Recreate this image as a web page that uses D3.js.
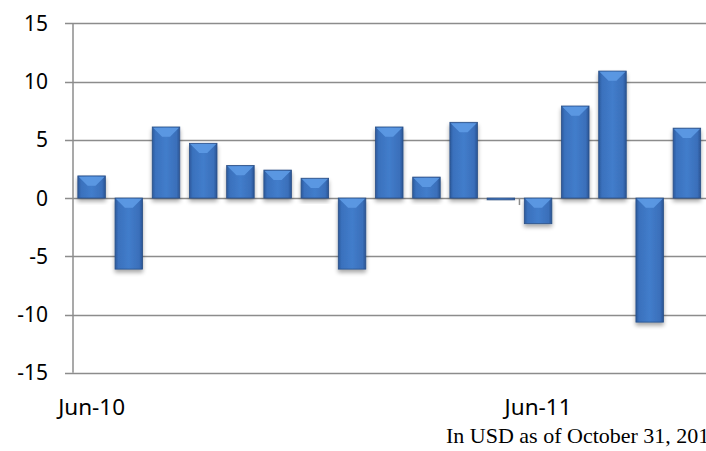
<!DOCTYPE html>
<html>
<head>
<meta charset="utf-8">
<script src="https://cdn.jsdelivr.net/npm/d3@7"></script>
<style>
  body { margin: 0; background: #fff; overflow: hidden; }
  svg { display: block; }
</style>
</head>
<body>
<div id="chart"></div>
<script>
// monthly values, Jun-10 .. Oct-11
var months = ["Jun-10", "Jul-10", "Aug-10", "Sep-10", "Oct-10", "Nov-10", "Dec-10",
              "Jan-11", "Feb-11", "Mar-11", "Apr-11", "May-11", "Jun-11", "Jul-11",
              "Aug-11", "Sep-11", "Oct-11"];
var values = [1.9, -6.1, 6.1, 4.7, 2.8, 2.4, 1.7, -6.1, 6.1, 1.8, 6.5, -0.15,
              -2.2, 7.9, 10.9, -10.65, 6.0];
var yTicks = [-15, -10, -5, 0, 5, 10, 15];
var xLabels = ["Jun-10", "Jun-11"];
var footnote = "In USD as of October 31, 2011";

var width = 706, height = 451;

var svg = d3.select("#chart").append("svg")
    .attr("width", width)
    .attr("height", height);

var defs = svg.append("defs");

var grad = defs.append("linearGradient")
    .attr("id", "barGrad")
    .attr("x1", "0%").attr("x2", "100%")
    .attr("y1", "0%").attr("y2", "0%");
grad.append("stop").attr("offset", "0%").attr("stop-color", "#2c5a9c");
grad.append("stop").attr("offset", "12%").attr("stop-color", "#3a71bd");
grad.append("stop").attr("offset", "50%").attr("stop-color", "#427dcb");
grad.append("stop").attr("offset", "88%").attr("stop-color", "#3a6fba");
grad.append("stop").attr("offset", "100%").attr("stop-color", "#2a5494");

var shadow = defs.append("filter").attr("id", "shadow")
    .attr("x", "-20%").attr("y", "-20%").attr("width", "140%").attr("height", "150%");
shadow.append("feGaussianBlur").attr("in", "SourceAlpha").attr("stdDeviation", 2);
shadow.append("feOffset").attr("dx", 0).attr("dy", 3).attr("result", "off");
shadow.append("feComponentTransfer").append("feFuncA").attr("type", "linear").attr("slope", 0.35);
var merge = shadow.append("feMerge");
merge.append("feMergeNode");
merge.append("feMergeNode").attr("in", "SourceGraphic");

var x = d3.scaleBand()
    .domain(months)
    .range([73, 705.5])
    .paddingInner(0.26)
    .paddingOuter(0.13);

var y = d3.scaleLinear()
    .domain([-15, 15])
    .range([372.8, 23.3]);

// gridlines
svg.append("g")
  .selectAll("line")
  .data(yTicks)
  .join("line")
    .attr("x1", 65)
    .attr("x2", width)
    .attr("y1", function(d) { return Math.round(y(d)) + 0.5; })
    .attr("y2", function(d) { return Math.round(y(d)) + 0.5; })
    .attr("stroke", "#8c8c8c")
    .attr("stroke-width", 1.5);

// y axis line
svg.append("line")
    .attr("x1", 73).attr("x2", 73)
    .attr("y1", y(15)).attr("y2", y(-15))
    .attr("stroke", "#8c8c8c")
    .attr("stroke-width", 1.5);

// y tick labels
svg.append("g")
  .selectAll("text")
  .data(yTicks)
  .join("text")
    .attr("x", 48)
    .attr("y", function(d) { return y(d); })
    .attr("dy", "0.36em")
    .attr("text-anchor", "end")
    .style("font-family", "'Noto Sans', 'Open Sans', sans-serif")
    .style("font-size", "21px")
    .attr("fill", "#000")
    .text(function(d) { return d; });

// category tick on the zero line (every 12 categories)
svg.append("line")
    .attr("x1", x("Jun-11") - x.step() * x.paddingInner() / 2)
    .attr("x2", x("Jun-11") - x.step() * x.paddingInner() / 2)
    .attr("y1", y(0)).attr("y2", y(0) + 7)
    .attr("stroke", "#8c8c8c")
    .attr("stroke-width", 1.5);

// bars
var bars = svg.append("g")
  .selectAll("g")
  .data(values)
  .join("g")
    .attr("filter", "url(#shadow)");

bars.append("rect")
    .attr("x", function(d, i) { return x(months[i]); })
    .attr("y", function(d) { return Math.min(y(d), y(0)); })
    .attr("width", x.bandwidth())
    .attr("height", function(d) { return Math.max(Math.abs(y(d) - y(0)), 1.5); })
    .attr("fill", "url(#barGrad)")
    .attr("stroke", "#2a4f86")
    .attr("stroke-width", 0.8);

// bevel highlight at the top of each bar
bars.append("polygon")
    .attr("points", function(d, i) {
      var x0 = x(months[i]) + 0.8, x1 = x(months[i]) + x.bandwidth() - 0.8;
      var top = Math.min(y(d), y(0)) + 0.8;
      var h = Math.abs(y(d) - y(0));
      var depth = Math.min(9, h / 2);
      if (h < 4) return "";
      return [[x0, top], [x1, top], [x1 - 9, top + depth], [x0 + 9, top + depth]]
        .map(function(p) { return p.join(","); }).join(" ");
    })
    .attr("fill", "#5d9ae4")
    .attr("opacity", 0.9);

// x labels
svg.append("g")
  .selectAll("text")
  .data(xLabels)
  .join("text")
    .attr("x", function(d) { return x(d) + x.bandwidth() / 2; })
    .attr("y", 415)
    .attr("text-anchor", "middle")
    .style("font-family", "'Noto Sans', 'Open Sans', sans-serif")
    .style("font-size", "22.5px")
    .attr("fill", "#000")
    .text(function(d) { return d; });

svg.append("text")
    .attr("x", 446)
    .attr("y", 443)
    .style("font-family", "'Liberation Serif', 'DejaVu Serif', serif")
    .style("font-size", "22px")
    .attr("fill", "#000")
    .text(footnote);
</script>
</body>
</html>
